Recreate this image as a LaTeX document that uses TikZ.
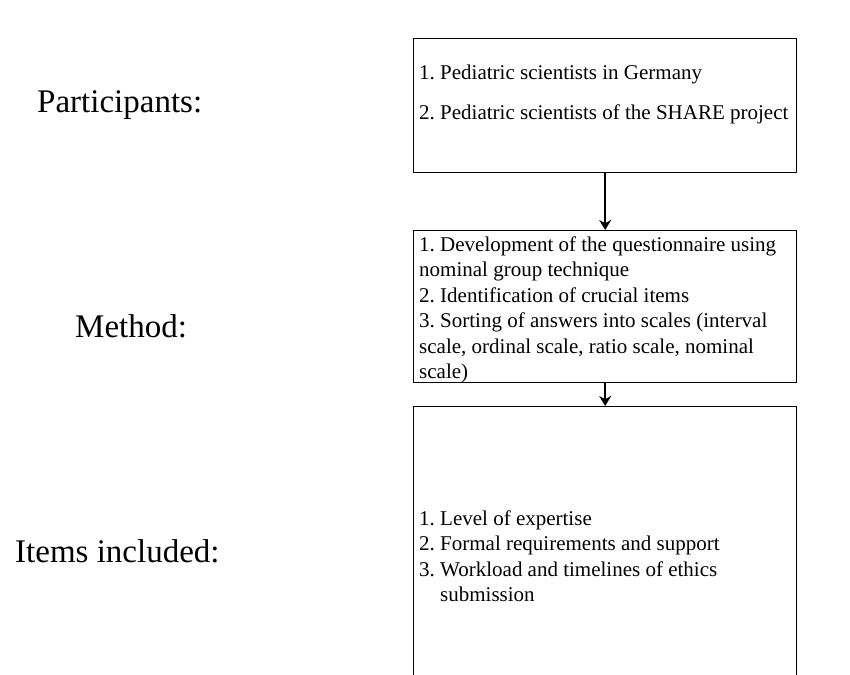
\documentclass[tikz,border=0pt]{standalone}
\usepackage{fontspec}
\setmainfont{Liberation Serif}
\frenchspacing
\usetikzlibrary{positioning,arrows.meta}

\begin{document}
\begin{tikzpicture}[x=1pt,y=-1pt,
        stage/.style={draw,line width=1.3pt,anchor=north west,minimum width=383pt,inner sep=0pt},
        itemtext/.style={anchor=west,inner sep=0pt,align=left,font=\fontsize{21}{25.5}\selectfont},
        rowlabel/.style={anchor=base west,inner sep=0pt,font=\fontsize{33}{40}\selectfont},
        flow/.style={line width=1.8pt,-{Stealth[length=10pt,width=12pt]}}]
    \useasboundingbox (0,0) rectangle (850,674);

    % boxes
    \node[stage,minimum height=134pt] (part) at (413,38) {};
    \node[stage,minimum height=152pt] (meth) at (413,230) {};
    \node[stage,minimum height=300pt] (items) at (413,406) {};

    % box texts
    \node[itemtext] (parttext) at (419,94)
        {1. Pediatric scientists in Germany\\[14.5pt]
         2. Pediatric scientists of the SHARE project};
    \node[itemtext] (methtext) at (419,310)
        {1. Development of the questionnaire using\\
         nominal group technique\\
         2. Identification of crucial items\\
         3. Sorting of answers into scales (interval\\
         scale, ordinal scale, ratio scale, nominal\\
         scale)};
    \node[itemtext] (itemstext) at (419,556)
        {1. Level of expertise\\
         2. Formal requirements and support\\
         3. Workload and timelines of ethics\\
         \phantom{3. }submission};

    \node[rowlabel] (lpart) at (37,113) {Participants:};
    \node[rowlabel] (lmeth) at (75,337) {Method:};
    \node[rowlabel] (litems) at (15,562) {Items included:};

    \draw[flow] (part.south) -- (meth.north);
    \draw[flow] (meth.south) -- (items.north);
\end{tikzpicture}
\end{document}
